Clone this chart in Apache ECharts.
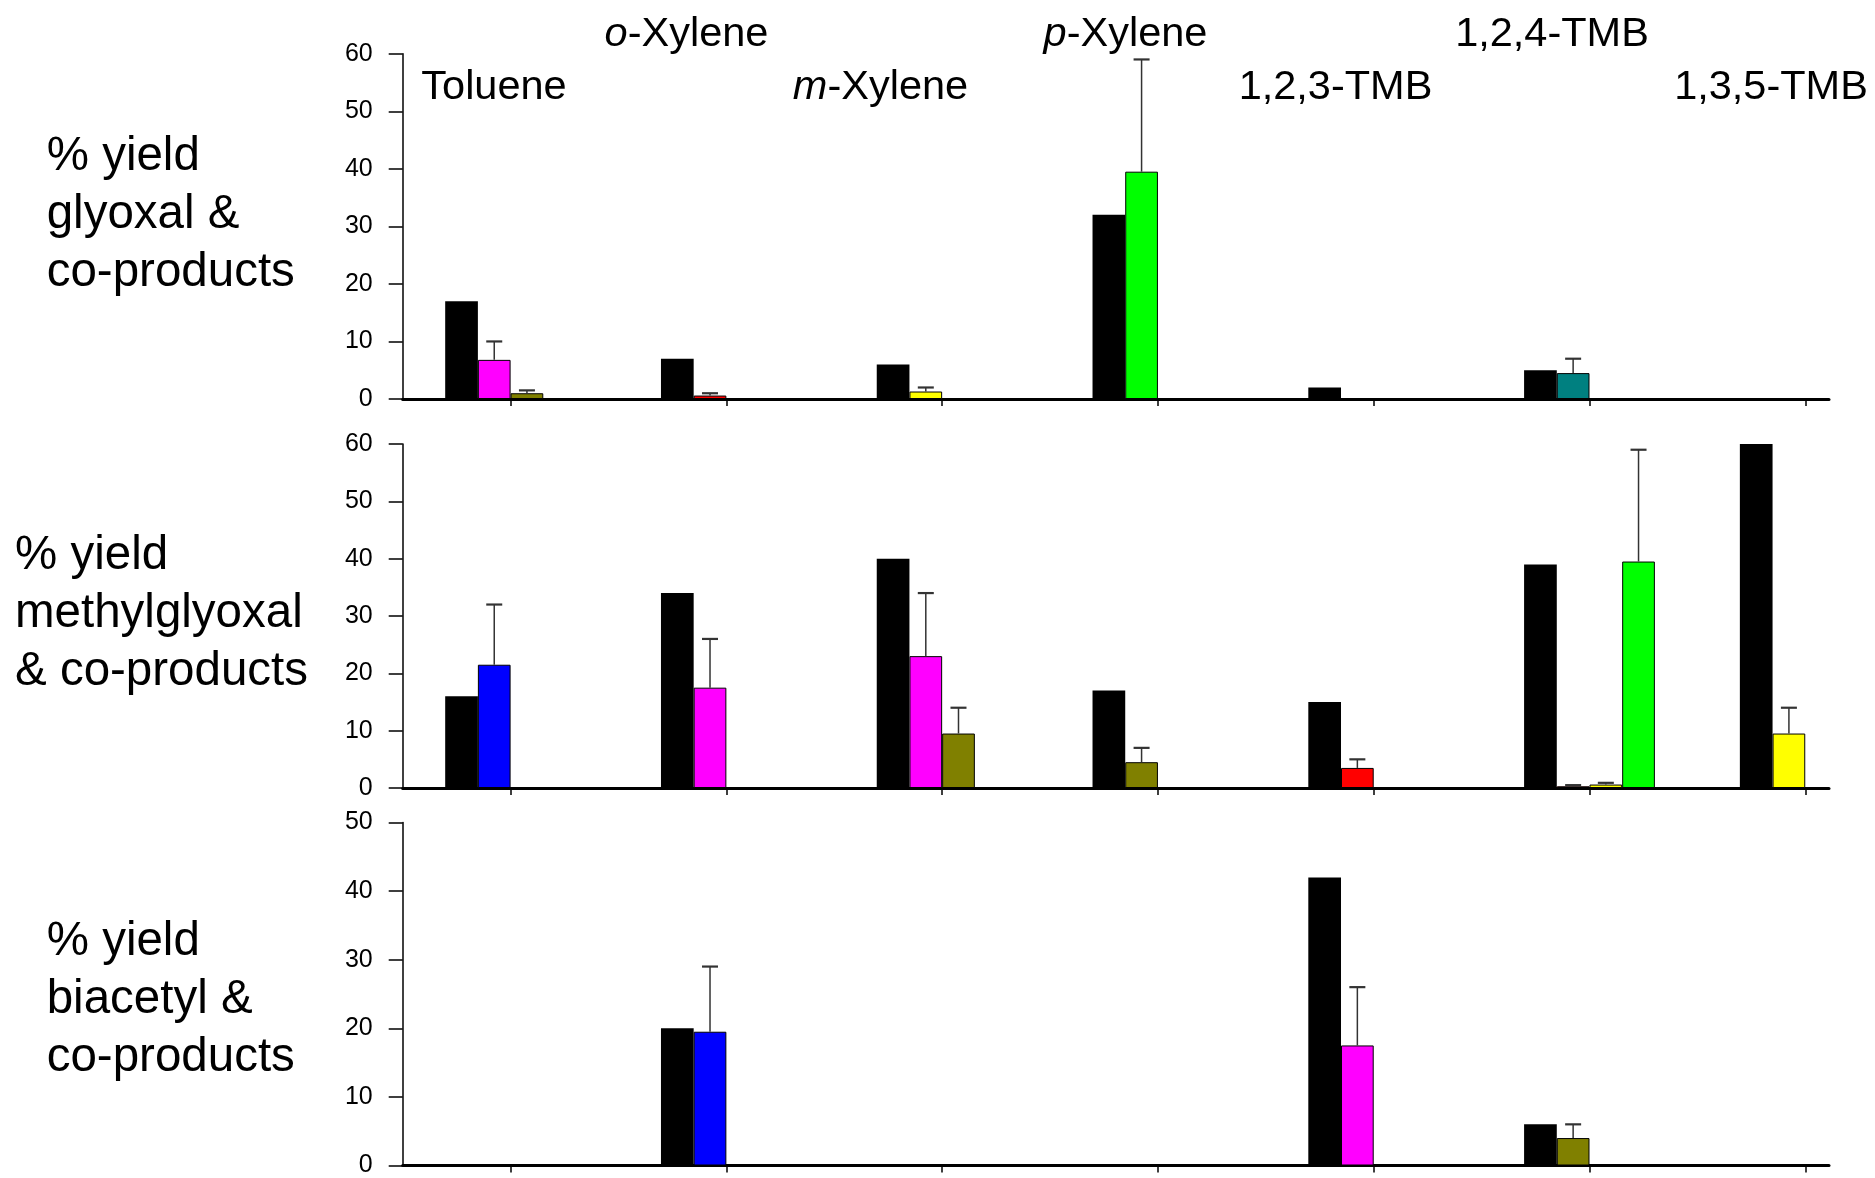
<!DOCTYPE html>
<html>
<head>
<meta charset="utf-8">
<script src="https://cdn.jsdelivr.net/npm/echarts@6/dist/echarts.min.js"></script>
<style>
    html, body { margin: 0; padding: 0; background: #fff; }
    #main { width: 1875px; height: 1178px; }
</style>
</head>
<body>
<div id="main"></div>
<script>
// aromatics, one per x tick
var categories = ['Toluene', 'o-Xylene', 'm-Xylene', 'p-Xylene', '1,2,3-TMB', '1,2,4-TMB', '1,3,5-TMB'];

// % yield glyoxal & co-products (black = glyoxal, then co-product bars, err = top of error bar)
var glyoxalMain = [17, 7, 6, 32, 2, 5, null];
var glyoxalCo1 = [6.8, 0.6, 1.3, 39.5, null, 4.5, null];
var glyoxalCo1Err = [10, 1.0, 2.0, 59, null, 7, null];
var glyoxalCo2 = [1.0, null, null, null, null, null, null];
var glyoxalCo2Err = [1.5, null, null, null, null, null, null];

// % yield methylglyoxal & co-products
var methylMain = [16, 34, 40, 17, 15, 39, 60];
var methylCo1 = [21.5, 17.5, 23, 4.5, 3.5, 0.3, 9.5];
var methylCo1Err = [32, 26, 34, 7, 5, 0.5, 14];
var methylCo2 = [null, null, 9.5, null, null, 0.6, null];
var methylCo2Err = [null, null, 14, null, null, 0.9, null];
var methylCo3 = [null, null, null, null, null, 39.5, null];
var methylCo3Err = [null, null, null, null, null, 59, null];

// % yield biacetyl & co-products
var biacetylMain = [null, 20, null, null, 42, 6, null];
var biacetylCo1 = [null, 19.5, null, null, 17.5, 4, null];
var biacetylCo1Err = [null, 29, null, null, 26, 6, null];

var yMax = [60, 60, 50];
var panelTitles = ['% yield\nglyoxal &\nco-products', '% yield\nmethylglyoxal\n& co-products', '% yield\nbiacetyl &\nco-products'];

//#region styles

var BLACK = '#000000', MAGENTA = '#ff00ff', OLIVE = '#808000', RED = '#ff0000',
    YELLOW = '#ffff00', GREEN = '#00ff00', TEAL = '#008080', BLUE = '#0000ff';

var glyoxalCo1Color = [MAGENTA, RED, YELLOW, GREEN, null, TEAL, null];
var glyoxalCo2Color = [OLIVE, null, null, null, null, null, null];
var methylCo1Color = [BLUE, MAGENTA, MAGENTA, OLIVE, RED, RED, YELLOW];
var methylCo2Color = [null, null, OLIVE, null, null, YELLOW, null];
var methylCo3Color = [null, null, null, null, null, GREEN, null];
var biacetylCo1Color = [null, BLUE, null, null, MAGENTA, OLIVE, null];

var FONT = '"Liberation Sans", Arial, Helvetica, sans-serif';
var BAR_W = 32.7;
var GRID_LEFT = 402.7, GRID_RIGHT = 46;
var gridTop = [53.7, 444, 822.5];
var gridHeight = [345.3, 344, 344.8];

// label layout (pixels)
var catLabelX = [494, 686.5, 880.5, 1125.5, 1335.5, 1552, 1771];
var catLabelY = [87.4, 34.7, 87.4, 34.7, 87.4, 34.7, 87.4];
var titleX = [46.7, 15, 46.7];
var titleY = [215.4, 614.4, 999.7];

//#endregion

var panels = [
    [[glyoxalMain, null, null], [glyoxalCo1, glyoxalCo1Err, glyoxalCo1Color], [glyoxalCo2, glyoxalCo2Err, glyoxalCo2Color], [[], null, null]],
    [[methylMain, null, null], [methylCo1, methylCo1Err, methylCo1Color], [methylCo2, methylCo2Err, methylCo2Color], [methylCo3, methylCo3Err, methylCo3Color]],
    [[biacetylMain, null, null], [biacetylCo1, biacetylCo1Err, biacetylCo1Color], [[], null, null], [[], null, null]]
];

var tickValues = categories.map(function (c, i) { return i + 1; });

var grids = [], xAxes = [], yAxes = [], series = [];

panels.forEach(function (slots, p) {
    grids.push({ left: GRID_LEFT, right: GRID_RIGHT, top: gridTop[p], height: gridHeight[p] });
    xAxes.push({
        gridIndex: p, type: 'value', min: 0.5, max: 7.11,
        axisLine: { show: true, onZero: false, lineStyle: { color: '#000', width: 3 } },
        axisTick: { show: true, customValues: tickValues, length: 7, lineStyle: { color: '#000', width: 1.5 } },
        axisLabel: { show: false },
        splitLine: { show: false }
    });
    yAxes.push({
        gridIndex: p, type: 'value', min: 0, max: yMax[p], interval: 10,
        axisLine: { show: true, onZero: false, lineStyle: { color: '#000', width: 1.5 } },
        axisTick: { show: true, length: 14, lineStyle: { color: '#000', width: 1.5 } },
        axisLabel: { color: '#000', fontSize: 25, fontFamily: FONT, margin: 30 },
        splitLine: { show: false }
    });

    var errData = [];
    slots.forEach(function (slot, s) {
        var vals = slot[0], errs = slot[1], colors = slot[2];
        var data = [];
        vals.forEach(function (v, i) {
            if (v == null) return;
            data.push({
                value: [i + 1, v],
                itemStyle: colors
                    ? { color: colors[i], borderColor: '#000', borderWidth: 1 }
                    : { color: BLACK, borderWidth: 0 }
            });
            if (errs && errs[i] != null) errData.push([i + 1, v, errs[i], s]);
        });
        series.push({
            type: 'bar', xAxisIndex: p, yAxisIndex: p,
            barWidth: BAR_W, barGap: '0%',
            data: data, animation: false, silent: true
        });
    });

    series.push({
        type: 'custom', xAxisIndex: p, yAxisIndex: p, z: 5,
        encode: { x: 0, y: [1, 2] },
        data: errData, animation: false, silent: true,
        renderItem: function (params, api) {
            var x = api.value(0);
            var top = api.coord([x, api.value(1)]);
            var end = api.coord([x, api.value(2)]);
            var cx = top[0] + (api.value(3) - 1.5) * BAR_W;
            return {
                type: 'group',
                children: [
                    { type: 'line', shape: { x1: cx, y1: top[1], x2: cx, y2: end[1] }, style: { stroke: '#333', lineWidth: 1.5 } },
                    { type: 'line', shape: { x1: cx - 8, y1: end[1], x2: cx + 8, y2: end[1] }, style: { stroke: '#333', lineWidth: 2.2 } }
                ]
            };
        }
    });
});

var graphics = [];
categories.forEach(function (name, i) {
    var m = /^([omp])-(.*)$/.exec(name);
    var txt = m ? '{i|' + m[1] + '}-' + m[2] : name;
    graphics.push({
        type: 'text', silent: true,
        style: {
            text: txt, x: catLabelX[i], y: catLabelY[i],
            align: 'center', verticalAlign: 'middle',
            textAlign: 'center', textVerticalAlign: 'middle',
            fontSize: 41.5, fontFamily: FONT, fill: '#000',
            rich: { i: { fontStyle: 'italic', fontSize: 41.5, fontFamily: FONT, fill: '#000' } }
        }
    });
});
panelTitles.forEach(function (t, p) {
    graphics.push({
        type: 'text', silent: true,
        style: {
            text: t, x: titleX[p], y: titleY[p],
            align: 'left', verticalAlign: 'middle',
            textAlign: 'left', textVerticalAlign: 'middle',
            fontSize: 47.5, lineHeight: 58, fontFamily: FONT, fill: '#000'
        }
    });
});

var chart = echarts.init(document.getElementById('main'));
chart.setOption({
    animation: false,
    backgroundColor: '#fff',
    grid: grids,
    xAxis: xAxes,
    yAxis: yAxes,
    series: series,
    graphic: graphics
});
</script>
</body>
</html>
